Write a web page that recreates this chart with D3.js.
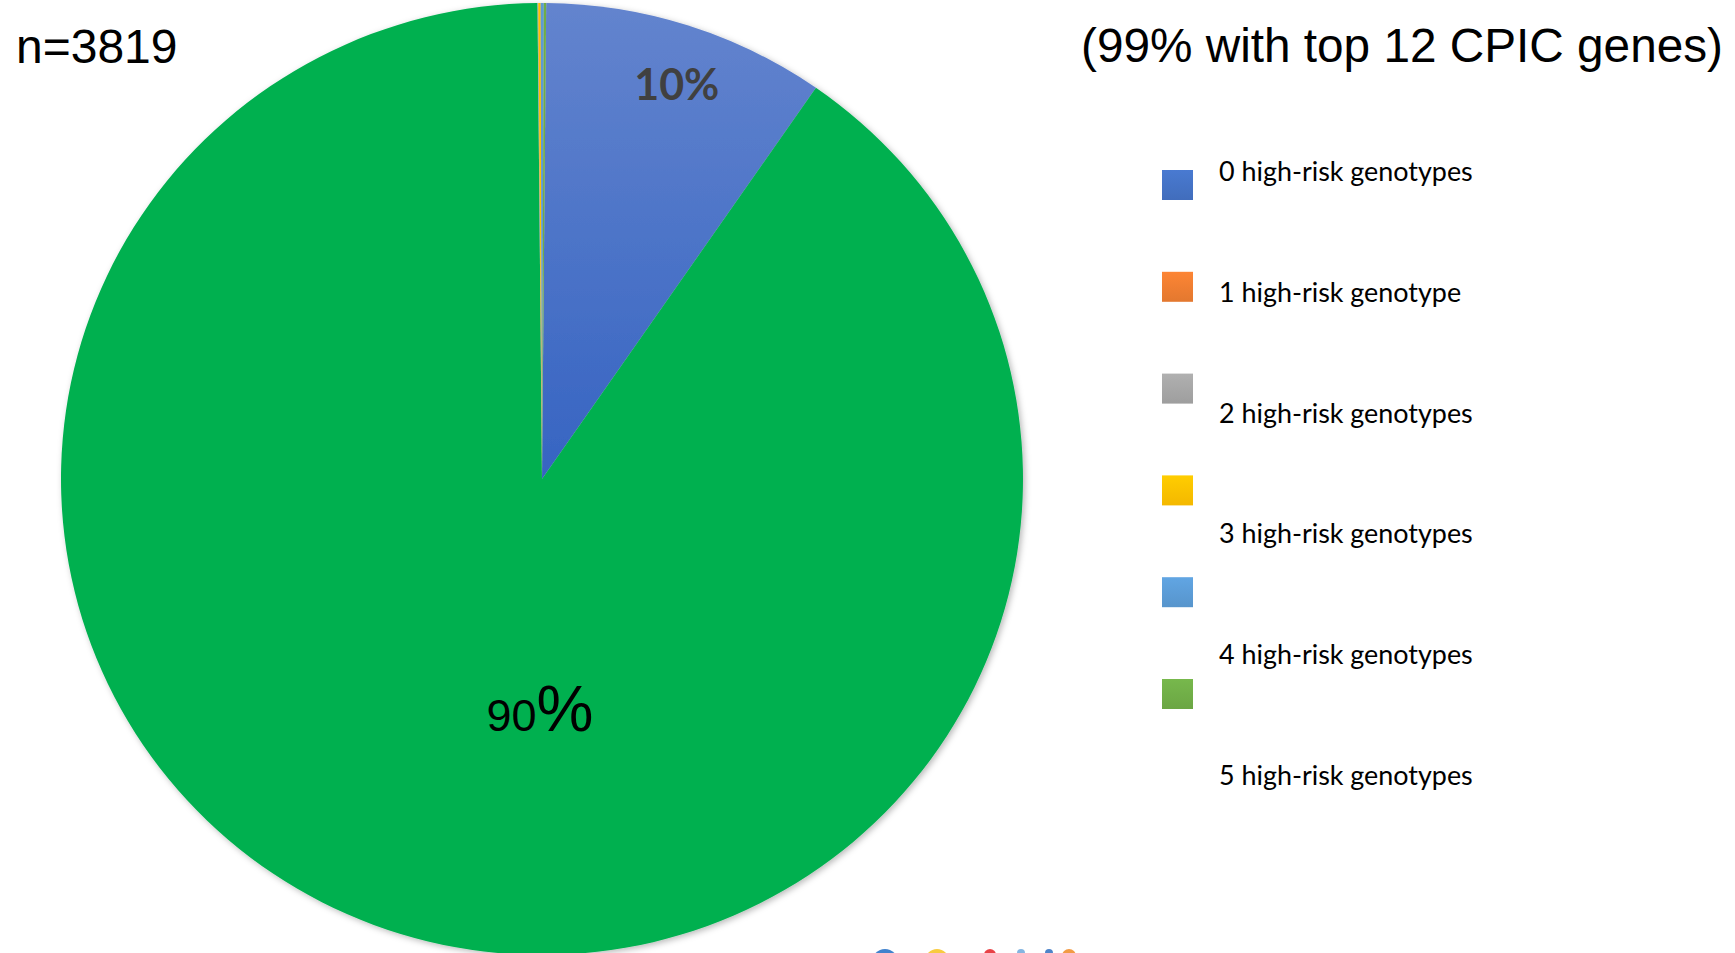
<!DOCTYPE html>
<html>
<head>
<meta charset="utf-8">
<script src="https://cdn.jsdelivr.net/npm/d3@7"></script>
<style>
  html, body { margin: 0; padding: 0; background: #fff; }
  svg { display: block; }
</style>
</head>
<body>
<svg id="chart" width="1735" height="953"></svg>
<script>
// Genotype categories and participant counts (n = 3819)
const categories = [
  "0 high-risk genotypes",
  "1 high-risk genotype",
  "2 high-risk genotypes",
  "3 high-risk genotypes",
  "4 high-risk genotypes",
  "5 high-risk genotypes"
];
const counts = [363, 3445, 1, 3, 4, 3];

// Legend swatch colours and the fills used on the pie itself
const legendColors = ["#4472C4", "#ED7D31", "#A5A5A5", "#FFC000", "#5B9BD5", "#70AD47"];
const sliceColors  = ["#4472C4", "#00B050", "#A5A5A5", "#FFC000", "#5B9BD5", "#70AD47"];

const sampleLabel = "n=3819";
const subtitle = "(99% with top 12 CPIC genes)";

const svg = d3.select("#chart");
const defs = svg.append("defs");

// light-to-dark vertical gradients like the office-style fills
function shade(c, k) { return d3.color(c)[k > 0 ? "brighter" : "darker"](Math.abs(k)).formatHex(); }
legendColors.forEach((c, i) => {
  const g = defs.append("linearGradient").attr("id", "lg" + i)
    .attr("x1", 0).attr("y1", 0).attr("x2", 0).attr("y2", 1);
  g.append("stop").attr("offset", "0%").attr("stop-color", shade(c, 0.18));
  g.append("stop").attr("offset", "100%").attr("stop-color", shade(c, -0.12));
});
const blueGrad = defs.append("linearGradient").attr("id", "sliceBlue")
  .attr("gradientUnits", "userSpaceOnUse")
  .attr("x1", 0).attr("y1", -480).attr("x2", 0).attr("y2", 0);
blueGrad.append("stop").attr("offset", "0%").attr("stop-color", "#6384CE");
blueGrad.append("stop").attr("offset", "100%").attr("stop-color", "#3664C2");

const shadow = defs.append("filter").attr("id", "pieShadow")
  .attr("x", "-5%").attr("y", "-5%").attr("width", "110%").attr("height", "110%");
shadow.append("feDropShadow").attr("dx", 2).attr("dy", 2)
  .attr("stdDeviation", 3).attr("flood-color", "#000").attr("flood-opacity", 0.28);

// ---- pie ----
const cx = 542, cy = 479, rx = 481, ry = 476;
const total = d3.sum(counts);
const firstSliceAngle = 0.5 * Math.PI / 180;

const pie = d3.pie().sort(null).value(d => d)
  .startAngle(firstSliceAngle).endAngle(firstSliceAngle + 2 * Math.PI);
const arcs = pie(counts);
const arc = d3.arc().innerRadius(0).outerRadius(rx);

const pieG = svg.append("g")
  .attr("transform", `translate(${cx},${cy}) scale(1,${ry / rx})`)
  .attr("filter", "url(#pieShadow)");

pieG.selectAll("path.slice")
  .data(arcs)
  .join("path")
  .attr("class", "slice")
  .attr("d", arc)
  .attr("fill", (d, i) => i === 0 ? "url(#sliceBlue)" : sliceColors[i]);

// ---- data labels ----
const pctFmt = d3.format(".0%");
const labelArc = d3.arc().innerRadius(419).outerRadius(419);

// first slice: bold, inside near the rim
{
  const d = arcs[0];
  const [lx, ly] = labelArc.centroid(d);
  svg.append("text")
    .attr("x", cx + lx + 8)
    .attr("y", cy + ly * ry / rx)
    .attr("text-anchor", "middle")
    .attr("dominant-baseline", "central")
    .style("font-family", "Lato, 'Open Sans', sans-serif")
    .style("font-weight", 700)
    .style("font-size", "43px")
    .attr("fill", "#404040")
    .text(pctFmt(d.value / total));
}

// second slice: plain, number and percent sign at different sizes
{
  const d = arcs[1];
  const txt = pctFmt(d.value / total);
  const t = svg.append("text")
    .attr("x", cx - 2)
    .attr("y", cy + 0.53 * ry)
    .attr("text-anchor", "middle")
    .style("font-family", "'Liberation Sans', Arial, sans-serif")
    .attr("fill", "#000");
  t.append("tspan").style("font-size", "45px").text(txt.replace("%", ""));
  t.append("tspan").style("font-size", "64px").text("%");
}

// ---- corner texts ----
svg.append("text")
  .attr("x", 16).attr("y", 63)
  .style("font-family", "'Liberation Sans', Arial, sans-serif")
  .style("font-size", "48px")
  .attr("fill", "#000")
  .text(sampleLabel);

svg.append("text")
  .attr("x", 1081).attr("y", 62)
  .style("font-family", "'Liberation Sans', Arial, sans-serif")
  .style("font-size", "47.5px")
  .attr("textLength", 642)
  .attr("lengthAdjust", "spacingAndGlyphs")
  .attr("fill", "#000")
  .text(subtitle);

// ---- legend ----
const legendX = 1162, swatchW = 31, swatchH = 30;
const swatchTop = 170, swatchStep = 101.8;
const textX = 1219, textBase = 181, textStep = 120.8;

const legend = svg.append("g");
legend.selectAll("rect")
  .data(categories)
  .join("rect")
  .attr("x", legendX)
  .attr("y", (d, i) => swatchTop + i * swatchStep)
  .attr("width", swatchW)
  .attr("height", swatchH)
  .attr("fill", (d, i) => `url(#lg${i})`);

legend.selectAll("text")
  .data(categories)
  .join("text")
  .attr("x", textX)
  .attr("y", (d, i) => textBase + i * textStep)
  .style("font-family", "Lato, 'Open Sans', sans-serif")
  .style("font-size", "26.9px")
  .attr("fill", "#000")
  .text(d => d);

// ---- logo peeking in at the bottom edge ----
const logoColors = ["#1F6CC4", "#F7C21F", "#E42127", "#6FA8DC", "#2F6FBF", "#F08A24"];
const logoX = [885, 937, 990, 1021, 1049, 1069];
const logoR = [13, 12, 6, 4, 4, 7];
svg.append("g").selectAll("ellipse")
  .data(logoX)
  .join("ellipse")
  .attr("cx", d => d)
  .attr("cy", (d, i) => 949 + logoR[i])
  .attr("rx", (d, i) => logoR[i])
  .attr("ry", (d, i) => logoR[i])
  .attr("fill", (d, i) => logoColors[i])
  .attr("opacity", 0.85);
</script>
</body>
</html>
